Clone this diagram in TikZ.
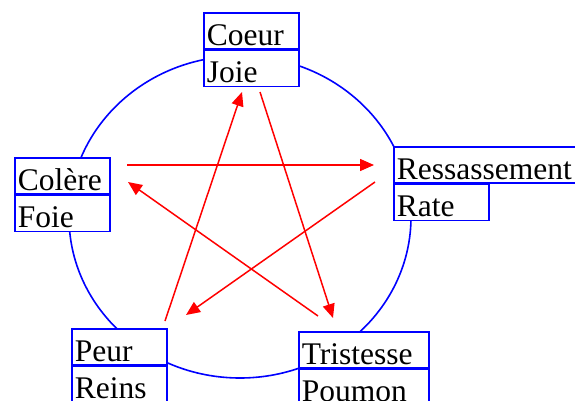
\documentclass[tikz,border=0pt]{standalone}
\usepackage{fontspec}
\setmainfont{Liberation Serif}
\usetikzlibrary{arrows.meta}

\tikzset{
  cell/.style={draw=blue, fill=white, line width=1.6pt, anchor=north west,
    inner xsep=3pt, inner ysep=1.5pt, text height=31pt, text depth=2pt,
    align=left, text width=#1, font=\fontsize{31.5pt}{36pt}\selectfont},
  cell/.default=89pt,
  flow/.style={draw=red, line width=1.5pt, -{Triangle[length=14pt,width=12pt]}}
}

\begin{document}
\begin{tikzpicture}[x=1pt, y=-1pt]
    \useasboundingbox (0,0) rectangle (575,401);

    % the cycle
    \draw[blue, line width=1.6pt] (240,217) ellipse [x radius=171pt, y radius=161pt];

    % organs and feelings
    \node[cell] (coeur) at (203,12) {Coeur};
    \node[cell] (joie) at (coeur.south west) {Joie};
    \node[cell=177pt] (ress) at (393,146) {Ressassement};
    \node[cell] (rate) at (ress.south west) {Rate};
    \node[cell] (colere) at (14,157) {Colère};
    \node[cell] (foie) at (colere.south west) {Foie};
    \node[cell] (peur) at (71,328) {Peur};
    \node[cell] (reins) at (peur.south west) {Reins};
    \node[cell=124pt] (trist) at (298,331) {Tristesse};
    \node[cell=124pt] (poumon) at (trist.south west) {Poumon};

    % ends of the star
    \coordinate (colere out) at (127,165);
    \coordinate (ress in) at (374,165);
    \coordinate (ress out) at (375,182);
    \coordinate (peur in) at (186,315);
    \coordinate (peur out) at (165,321);
    \coordinate (joie in) at (242,92);
    \coordinate (joie out) at (260,92);
    \coordinate (trist in) at (333,318);
    \coordinate (trist out) at (318,316);
    \coordinate (colere in) at (128,182);

    \draw[flow] (colere out) -- (ress in);
    \draw[flow] (ress out) -- (peur in);
    \draw[flow] (peur out) -- (joie in);
    \draw[flow] (joie out) -- (trist in);
    \draw[flow] (trist out) -- (colere in);
\end{tikzpicture}
\end{document}
